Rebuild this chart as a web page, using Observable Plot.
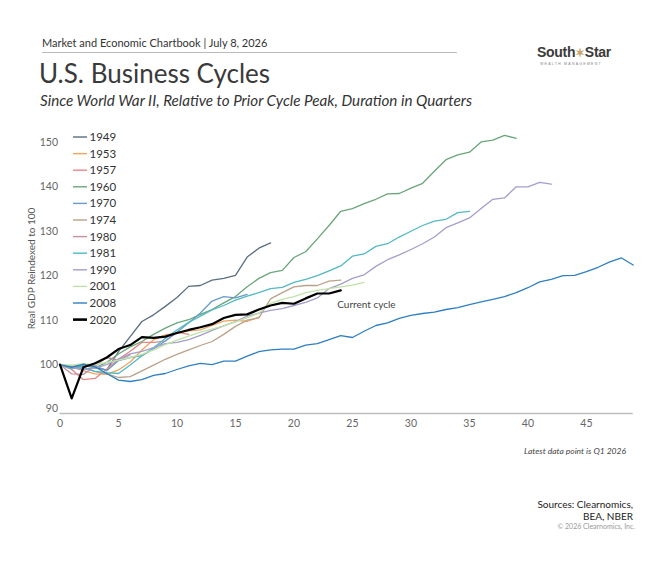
<!DOCTYPE html>
<html>
<head>
<meta charset="utf-8">
<script src="https://cdn.jsdelivr.net/npm/d3@7"></script>
<script src="https://cdn.jsdelivr.net/npm/@observablehq/plot@0.6"></script>
<style>
  html, body { margin: 0; padding: 0; background: #fff; }
  body { width: 666px; height: 568px; position: relative; overflow: hidden; font-family: Lato, "Open Sans", sans-serif; color: #333; }
  .abs { position: absolute; white-space: nowrap; }
  #header { left: 42px; top: 36px; font-size: 11px; color: #333; }
  #rule { left: 42px; top: 52px; width: 415px; height: 1px; background: #bbb; }
  #title { left: 39px; top: 57px; font-size: 26px; color: #3a3a3a; }
  #subtitle { left: 40px; top: 91px; font-size: 15.2px; font-style: italic; color: #333; }
  #logo { left: 537px; top: 44px; font-family: "Liberation Sans", Arial, sans-serif; font-size: 14px; font-weight: bold; color: #3a3a3a; letter-spacing: -0.3px; }
  #logo .star { color: #c8a46a; font-size: 12px; }
  #logosub { left: 540px; top: 62px; font-family: "Liberation Sans", Arial, sans-serif; font-size: 3.6px; letter-spacing: 1.2px; color: #888; }
  #chart { left: 0; top: 125px; }
  #latest { right: 40px; top: 446px; font-size: 8.5px; font-style: italic; color: #444; }
  #sources { right: 33px; top: 498px; font-size: 10px; color: #222; text-align: right; line-height: 12px; }
  #copy { right: 31px; top: 522px; font-size: 7px; color: #999; }
</style>
</head>
<body>
<div id="header" class="abs">Market and Economic Chartbook | July 8, 2026</div>
<div id="rule" class="abs"></div>
<div id="logo" class="abs">South<span class="star">✶</span>Star</div>
<div id="logosub" class="abs">WEALTH MANAGEMENT</div>
<div id="title" class="abs">U.S. Business Cycles</div>
<div id="subtitle" class="abs">Since World War II, Relative to Prior Cycle Peak, Duration in Quarters</div>
<div id="chart" class="abs"></div>
<div id="latest" class="abs">Latest data point is Q1 2026</div>
<div id="sources" class="abs">Sources: Clearnomics,<br>BEA, NBER</div>
<div id="copy" class="abs">© 2026 Clearnomics, Inc.</div>
<script>
// ---- Data (index = quarters since prior cycle peak) ----
const cycles = ["1949", "1953", "1957", "1960", "1970", "1974", "1980", "1981", "1990", "2001", "2008", "2020"];
const colors = ["#5b6e80", "#f0a462", "#e88686", "#6aa67a", "#6b9bc8", "#bba189", "#c4909e", "#52b9c2", "#a59ecb", "#bfe3a6", "#2f7fc0", "#000000"];

const gdp1949 = [100, 99.6, 99.0, 99.3, 98.8, 102.9, 106.3, 109.7, 111.2, 113.1, 115.1, 117.6, 117.8, 119.0, 119.4, 120.1, 124.2, 126.2, 127.4];
const gdp1953 = [100, 99.6, 98.6, 97.9, 97.8, 98.8, 100.6, 103.3, 105.6, 106.7, 107.1, 107.6, 107.8, 108.8, 109.8, 110.0, 109.7, 110.7];
const gdp1957 = [100, 98.9, 96.6, 96.9, 99.0, 101.2, 103.0, 105.0, 105.0, 105.3, 107.3, 106.8];
const gdp1960 = [100, 99.6, 99.9, 99.3, 100.5, 102.4, 104.0, 105.2, 106.8, 108.2, 109.4, 110.1, 111.3, 112.4, 113.9, 115.3, 117.5, 119.4, 120.7, 121.2, 124.1, 125.4, 128.3, 131.3, 134.5, 135.1, 136.2, 137.2, 138.4, 138.5, 139.7, 140.8, 143.5, 146.1, 147.2, 147.8, 150.1, 150.5, 151.6, 150.9];
const gdp1970 = [100, 99.5, 99.6, 99.8, 98.6, 100.9, 101.6, 102.0, 103.5, 105.3, 107.3, 109.4, 111.6, 114.3, 115.3, 115.0, 115.8];
const gdp1974 = [100, 99.1, 99.3, 98.4, 97.9, 97.1, 97.3, 98.6, 99.9, 101.2, 102.3, 103.3, 104.3, 105.2, 106.8, 108.6, 110.0, 110.5, 114.8, 116.2, 117.5, 117.8, 117.8, 118.8, 119.0];
const gdp1980 = [100, 97.9, 97.8, 99.7, 101.6, 101.0, 102.2];
const gdp1981 = [100, 99.1, 99.3, 98.5, 98.2, 98.0, 99.9, 102.0, 103.8, 105.9, 107.8, 109.5, 110.9, 112.3, 113.3, 114.5, 115.4, 116.2, 117.1, 117.4, 118.5, 119.2, 120.0, 121.1, 122.2, 124.4, 124.9, 126.6, 127.2, 128.7, 130.0, 131.3, 132.3, 132.7, 134.2, 134.5];
const gdp1990 = [100, 99.3, 98.8, 99.2, 100.0, 101.3, 102.4, 103.0, 103.8, 104.7, 105.0, 105.6, 106.6, 107.7, 108.7, 109.7, 110.9, 111.6, 112.2, 112.6, 113.3, 114.0, 115.0, 117.1, 118.1, 119.4, 120.2, 122.1, 123.6, 124.7, 125.9, 127.2, 128.7, 130.8, 131.9, 133.0, 135.1, 137.2, 137.5, 140.0, 140.0, 141.0, 140.6];
const gdp2001 = [100, 99.9, 100.2, 100.0, 100.5, 101.0, 101.6, 102.3, 103.3, 104.5, 105.5, 106.4, 107.3, 108.0, 108.7, 109.6, 110.5, 111.6, 113.8, 114.7, 115.3, 116.2, 116.7, 117.1, 117.5, 117.9, 118.5];
const gdp2008 = [100, 99.4, 100.1, 99.5, 98.0, 96.5, 96.2, 96.6, 97.6, 98.0, 98.9, 99.7, 100.3, 100.0, 100.8, 100.8, 101.9, 102.9, 103.3, 103.5, 103.5, 104.4, 104.7, 105.6, 106.5, 106.1, 107.5, 108.8, 109.4, 110.4, 111.1, 111.5, 111.8, 112.4, 112.8, 113.5, 114.1, 114.7, 115.3, 116.2, 117.3, 118.6, 119.2, 120.0, 120.1, 120.9, 121.9, 123.1, 124.0, 122.4];
const gdp2020 = [100, 92.4, 99.4, 100.3, 101.6, 103.5, 104.4, 106.2, 106.0, 106.3, 107.1, 107.8, 108.4, 109.1, 110.5, 111.2, 111.3, 112.4, 113.3, 113.9, 113.7, 114.9, 116.0, 116.0, 116.7];

const seriesValues = [gdp1949, gdp1953, gdp1957, gdp1960, gdp1970, gdp1974, gdp1980, gdp1981, gdp1990, gdp2001, gdp2008, gdp2020];
const xTicks = [0, 5, 10, 15, 20, 25, 30, 35, 40, 45];
const yTicks = [90, 100, 110, 120, 130, 140, 150];
const yLabel = "Real GDP Reindexed to 100";
const annotation = {q: 23.7, v: 113.5, text: "Current cycle"};

// ---- Build table ----
const rows = [];
cycles.forEach((c, i) => seriesValues[i].forEach((v, q) => rows.push({cycle: c, q, v})));
const others = rows.filter(d => d.cycle !== "2020");
const current = rows.filter(d => d.cycle === "2020");

const W = 666, H = 320;
const plot = Plot.plot({
  width: W, height: H,
  marginLeft: 59.5, marginRight: 33.3, marginTop: 8, marginBottom: 32,
  style: {fontFamily: "Lato, 'Open Sans', sans-serif", fontSize: "10px", color: "#666", background: "transparent"},
  x: {domain: [0, 49], ticks: xTicks, label: null},
  y: {domain: [89, 152], ticks: yTicks, label: null},
  color: {domain: cycles, range: colors},
  marks: [
    Plot.ruleY([89], {stroke: "#bdbdbd", strokeWidth: 1.5}),
    Plot.axisX({ticks: xTicks, tickSize: 0, tickPadding: 6, fill: "#666", fontSize: 10.5}),
    Plot.axisY({ticks: yTicks, tickSize: 0, tickPadding: 2, fill: "#666", fontSize: 10.5}),
    Plot.line(others, {x: "q", y: "v", z: "cycle", stroke: "cycle", strokeWidth: 1.3, curve: "linear"}),
    Plot.line(current, {x: "q", y: "v", stroke: "#000", strokeWidth: 2.2}),
    Plot.text([annotation], {x: "q", y: "v", text: "text", textAnchor: "start", fill: "#444", fontSize: 10})
  ]
});
document.getElementById("chart").appendChild(plot);

// ---- Legend & y label drawn inside the svg ----
const svg = d3.select(plot);
const lg = svg.append("g").attr("class", "legend").attr("text-anchor", "start");
cycles.forEach((c, i) => {
  const yy = 12 + i * 16.6;
  lg.append("line").attr("x1", 73).attr("x2", 87).attr("y1", yy).attr("y2", yy)
    .attr("stroke", colors[i]).attr("stroke-width", c === "2020" ? 2.6 : 1.4);
  lg.append("text").attr("x", 89.5).attr("y", yy).attr("dy", "0.35em")
    .attr("text-anchor", "start")
    .attr("fill", "#333").attr("font-size", 11.5).text(c);
});
svg.append("text")
  .attr("transform", `translate(31,${268.5 - 125}) rotate(-90)`)
  .attr("text-anchor", "middle").attr("dy", "0.35em")
  .attr("fill", "#555").attr("font-size", 10).text(yLabel);
</script>
</body>
</html>
